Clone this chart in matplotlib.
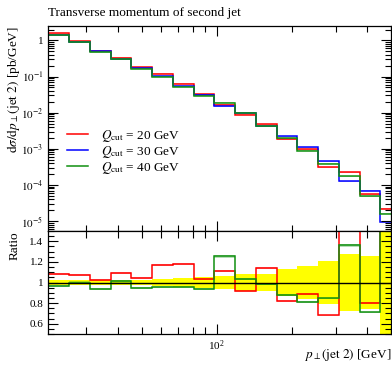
import numpy as np
import matplotlib
matplotlib.use("Agg")
import matplotlib.pyplot as plt
from matplotlib.ticker import LogLocator, NullFormatter, FuncFormatter, MultipleLocator

plt.rcParams["font.family"] = ["Liberation Serif", "DejaVu Serif"]
plt.rcParams["mathtext.fontset"] = "stix"

# bin edges of the second-jet pT histogram (log bins), GeV
edges = np.geomspace(21.1, 549.6, 18)

# Qcut = 30 GeV (reference), pb/GeV
blue_vals = [1.45, 0.88, 0.506, 0.298, 0.171, 0.103, 0.054, 0.031, 0.0151,
             0.0095, 0.00423, 0.00223, 0.00109, 4.54e-4, 1.27e-4, 6.8e-5, 9.4e-6]
# ratios to the reference
red_ratio = [1.08, 1.07, 1.027, 1.095, 1.045, 1.17, 1.178, 1.03, 1.11,
             0.92, 1.14, 0.82, 0.89, 0.68, 1.77, 0.80, 2.34]
green_ratio = [0.97, 1.0, 0.94, 1.01, 0.95, 0.957, 0.955, 0.94, 1.255,
               1.037, 0.99, 0.88, 0.81, 0.845, 1.36, 0.71, 1.70]
# relative uncertainty of the reference (yellow band)
ref_err = [0.02, 0.02, 0.02, 0.02, 0.025, 0.03, 0.04, 0.053, 0.066,
           0.08, 0.08, 0.13, 0.165, 0.21, 0.28, 0.26, 0.8]

labels = [r"$Q_{\mathrm{cut}}$ = 20 GeV", r"$Q_{\mathrm{cut}}$ = 30 GeV", r"$Q_{\mathrm{cut}}$ = 40 GeV"]
colors = ["#ff0000", "#0000ff", "#109010"]

blue = np.array(blue_vals)
red = blue * np.array(red_ratio)
green = blue * np.array(green_ratio)
err = np.array(ref_err)

W, H = 392, 365
fig = plt.figure(figsize=(W / 100, H / 100), dpi=100)
ax = fig.add_axes([48.3 / W, 134 / H, 342.7 / W, 205 / H])
rax = fig.add_axes([48.3 / W, 31 / H, 342.7 / W, 103 / H], sharex=ax)

for vals, col, lab in zip([red, blue, green], colors, labels):
    ax.stairs(vals * 1.03, edges, baseline=vals * 0.97, fill=True, color=col, alpha=0.3, lw=0)
    ax.stairs(vals, edges, color=col, lw=1.1, label=lab)

ax.set_xscale("log")
ax.set_yscale("log")
ax.set_xlim(21.1, 500)
ax.set_ylim(5.3e-6, 2.5)

def yfmt(v, pos):
    e = int(round(np.log10(v)))
    return "1" if e == 0 else r"$10^{%d}$" % e

ax.yaxis.set_major_locator(LogLocator(base=10, numticks=20))
ax.yaxis.set_minor_locator(LogLocator(base=10, subs=np.arange(2, 10), numticks=20))
ax.yaxis.set_major_formatter(FuncFormatter(yfmt))
ax.yaxis.set_minor_formatter(NullFormatter())
ax.tick_params(axis="x", which="both", labelbottom=False)
ax.set_ylabel(r"$\mathrm{d}\sigma/\mathrm{d}p_{\perp}(\mathrm{jet\ 2})$ [pb/GeV]", loc="top", fontsize=9.5)
ax.yaxis.set_label_coords(-0.077, 1.0)
ax.legend(loc="upper left", bbox_to_anchor=(0.02, 0.56), frameon=False, fontsize=9.5,
          handlelength=1.6, handletextpad=1.0, labelspacing=0.0)
fig.text(48.3 / W, 1 - 16 / H, "Transverse momentum of second jet", fontsize=9.5, va="baseline")

# ratio panel
rax.stairs(1 + err, edges, baseline=1 - err, fill=True, color="#ffff00", lw=0)
for r, col in zip([np.array(red_ratio), np.array(green_ratio)], [colors[0], colors[2]]):
    rax.stairs(r * 1.01, edges, baseline=r * 0.99, fill=True, color=col, alpha=0.3, lw=0)
    rax.stairs(r, edges, color=col, lw=1.1)
rax.axhline(1, color="black", lw=1)
rax.set_ylim(0.5, 1.5)
rax.set_yticks([0.6, 0.8, 1.0, 1.2, 1.4], ["0.6", "0.8", "1", "1.2", "1.4"])
rax.yaxis.set_minor_locator(MultipleLocator(0.05))
rax.xaxis.set_minor_formatter(NullFormatter())
rax.set_ylabel("Ratio", loc="top", fontsize=9.5)
rax.yaxis.set_label_coords(-0.08, 1.0)
rax.set_xlabel(r"$p_{\perp}(\mathrm{jet\ 2})$ [GeV]", loc="right", fontsize=9.5)
rax.xaxis.set_label_coords(1.0, -0.13)

for a in (ax, rax):
    a.tick_params(which="both", direction="in", top=True, right=True, labelsize=8, width=0.8)
    a.tick_params(which="major", length=7)
    a.tick_params(which="minor", length=4)
    for s in a.spines.values():
        s.set_linewidth(0.9)
rax.tick_params(axis="x", which="minor", length=5)

fig.savefig("out.png", dpi=100)
